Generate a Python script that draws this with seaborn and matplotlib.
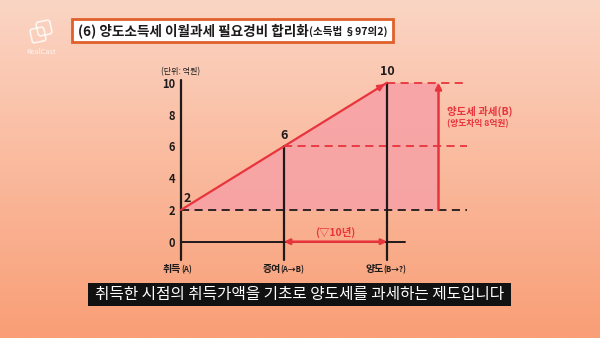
import numpy as np
import matplotlib
matplotlib.use("Agg")
import matplotlib.pyplot as plt
import seaborn as sns
import pandas as pd
from matplotlib.patches import Rectangle, FancyBboxPatch
import matplotlib.transforms as mtransforms

# ---------------- data ----------------
stages = ["취득", "증여", "양도"]
stage_notes = ["(A)", "(A→B)", "(B→?)"]
stage_x = [0, 1, 2]
values = [2, 6, 10]
point_labels = ["2", "6", "10"]
yticks = [0, 2, 4, 6, 8, 10]
title_main = "(6) 양도소득세 이월과세 필요경비 합리화"
title_sub = "(소득법 §97의2)"
unit_label = "(단위: 억원)"
period_label = "(▽10년)"
gain_label = "양도세 과세(B)"
gain_note = "(양도차익 8억원)"
subtitle = "취득한 시점의 취득가액을 기초로 양도세를 과세하는 제도입니다"

sns.set_theme(style="white")
plt.rcParams["font.family"] = ["Noto Sans CJK KR", "DejaVu Sans"]
plt.rcParams["axes.unicode_minus"] = False

RED = "#E8343C"
PINK = "#F7A2A6"
INK = "#1E1A1A"

W, H = 600, 338
fig = plt.figure(figsize=(W / 100, H / 100), dpi=100)

# background gradient
bg = fig.add_axes([0, 0, 1, 1])
top = np.array([251, 213, 196]) / 255
bot = np.array([249, 158, 118]) / 255
t = np.linspace(0, 1, 256)[:, None]
grad = top[None, :] * (1 - t) + bot[None, :] * t
grad = np.repeat(grad[:, None, :], 2, axis=1)
bg.imshow(grad, extent=[0, W, H, 0], aspect="auto", zorder=0)
bg.set_xlim(0, W)
bg.set_ylim(H, 0)
bg.axis("off")

# logo
for x0, y0 in [(37, 21), (31, 28)]:
    r = FancyBboxPatch((x0, y0), 14, 14, boxstyle="round,pad=0,rounding_size=2.5",
                       fill=False, ec=(1, 1, 1, 0.8), lw=1.2, zorder=2)
    tr = mtransforms.Affine2D().rotate_deg_around(x0 + 7, y0 + 7, -12) + bg.transData
    r.set_transform(tr)
    bg.add_patch(r)
bg.text(41, 51.5, "RealCast", color=(1, 1, 1, 0.8), fontsize=5.3,
        ha="center", va="center", zorder=2)

# title box
bg.add_patch(Rectangle((72, 19), 321, 23, fc="white", ec="#E0602A", lw=2, zorder=2))
renderer = fig.canvas.get_renderer()
t1 = bg.text(78, 31, title_main, fontsize=9.8, fontweight="bold", color=INK,
             ha="left", va="center", zorder=3)
bb = t1.get_window_extent(renderer=renderer)
x_end = bg.transData.inverted().transform((bb.x1, bb.y0))[0]
bg.text(x_end + 0.5, 31.5, title_sub, fontsize=7.6, fontweight="bold", color=INK,
        ha="left", va="center", zorder=3)

# subtitle box
bg.add_patch(Rectangle((88, 283), 423, 23, fc="#111111", ec="none", zorder=2))
bg.text(299.5, 294.5, subtitle, fontsize=11.3, color="white",
        ha="center", va="center", zorder=3)

# ---------------- chart axes ----------------
ax = fig.add_axes([78 / W, 1 - 265.55 / H, 412 / W, (265.55 - 70.0) / H])
ax.set_xlim(-1, 3)
ax.set_ylim(-1.5, 10.8)
ax.patch.set_alpha(0)
for s in ax.spines.values():
    s.set_visible(False)

df = pd.DataFrame({"x": stage_x, "v": values})

# pink area
ax.fill_between(df["x"], df["v"], values[0], color=PINK, alpha=0.9, lw=0, zorder=1)
ax.fill_between([stage_x[-1], stage_x[-1] + 0.5], values[-1], values[0],
                color=PINK, alpha=0.9, lw=0, zorder=1)

# main red line
sns.lineplot(data=df, x="x", y="v", color=RED, lw=1.6, ax=ax, zorder=4)
ax.annotate("", xy=(stage_x[-1], values[-1]), xytext=(stage_x[-1] - 0.12, values[-1] - 0.48),
            arrowprops=dict(arrowstyle="-|>", color=RED, lw=1.6, mutation_scale=9),
            zorder=5)

# axes lines
ax.plot([0, 0], [-1.15, 10.15], color=INK, lw=1.6, zorder=3)
ax.plot([0, 2.17], [0, 0], color=INK, lw=1.4, zorder=3)
ax.plot([stage_x[1]] * 2, [-1.15, values[1]], color=INK, lw=1.6, zorder=3)
ax.plot([stage_x[2]] * 2, [-1.15, values[2]], color=INK, lw=1.6, zorder=3)

# dashed reference lines
ax.plot([0, 2.78], [values[0]] * 2, color=INK, lw=1.3, ls=(0, (4.5, 3)), zorder=2)
ax.plot([stage_x[1], 2.78], [values[1]] * 2, color=RED, lw=1.3, ls=(0, (4.5, 3)), zorder=2)
ax.plot([stage_x[2], 2.78], [values[2]] * 2, color=RED, lw=1.3, ls=(0, (4.5, 3)), zorder=2)

# period arrow
ax.annotate("", xy=(stage_x[2], 0), xytext=(stage_x[1], 0),
            arrowprops=dict(arrowstyle="<|-|>", color=RED, lw=1.8, mutation_scale=8,
                            shrinkA=0, shrinkB=0), zorder=5)
ax.text(1.5, 0.6, period_label, color=RED, fontsize=7.5, fontweight="bold",
        ha="center", va="center")

# gain arrow
ax.annotate("", xy=(2.5, values[2]), xytext=(2.5, values[0]),
            arrowprops=dict(arrowstyle="-|>", color=RED, lw=1.8, mutation_scale=9,
                            shrinkA=0, shrinkB=0), zorder=5)
ax.text(2.58, 8.2, gain_label, color=RED, fontsize=7.5, fontweight="bold",
        ha="left", va="center")
ax.text(2.58, 7.45, gain_note, color=RED, fontsize=6.3, fontweight="bold",
        ha="left", va="center")

# point labels
for x, v, lab, dx in zip(stage_x, values, point_labels, [0.06, 0, 0]):
    ax.text(x + dx, v + 0.7, lab, fontsize=9, fontweight="bold", color=INK,
            ha="center", va="center")

ax.text(0, 10.7, unit_label, fontsize=5.8, color=INK, ha="center", va="center")

# y ticks
ax.set_yticks(yticks)
ax.set_yticklabels([str(v) for v in yticks], fontsize=8, fontweight="bold", color=INK)
ax.tick_params(axis="y", length=0, pad=-70)
ax.set_xticks([])
ax.set_xlabel("")
ax.set_ylabel("")

# x stage labels
for x, name, note, sh in zip(stage_x, stages, stage_notes, [0, -0.035, -0.035]):
    ax.text(x + sh, -1.73, name, fontsize=7.2, fontweight="bold", color=INK,
            ha="right", va="center")
    ax.text(x + sh, -1.75, note, fontsize=5.6, fontweight="bold", color=INK,
            ha="left", va="center")

fig.savefig("out.png", dpi=100)
